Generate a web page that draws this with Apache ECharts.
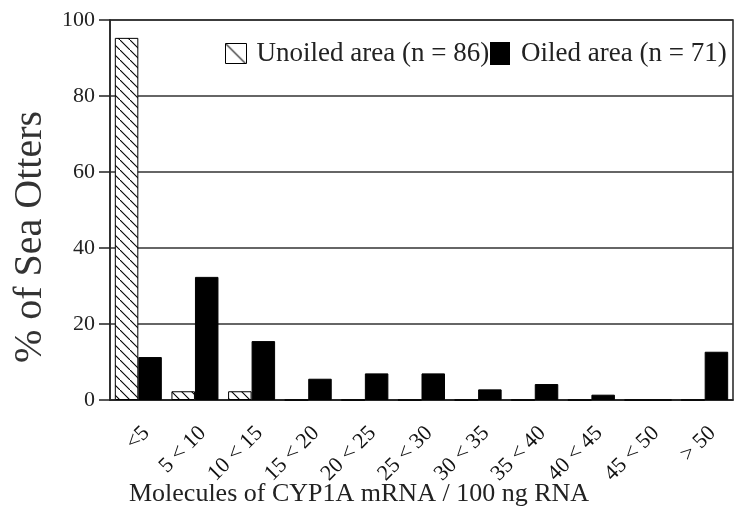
<!DOCTYPE html>
<html>
<head>
<meta charset="utf-8">
<script src="https://cdn.jsdelivr.net/npm/echarts@6/dist/echarts.min.js"></script>
<style>
html,body{margin:0;padding:0;background:#fff;}
#chart{width:735px;height:520px;}
</style>
</head>
<body>
<div id="chart"></div>
<script>
const categories = ['<5', '5 < 10', '10 < 15', '15 < 20', '20 < 25', '25 < 30', '30 < 35', '35 < 40', '40 < 45', '45 < 50', '> 50'];
const unoiled = [95.3, 2.3, 2.3, 0, 0, 0, 0, 0, 0, 0, 0];
const oiled = [11.3, 32.4, 15.5, 5.6, 7.0, 7.0, 2.8, 4.2, 1.4, 0, 12.7];
const yTicks = [0, 20, 40, 60, 80, 100];
const unoiledName = 'Unoiled area (n = 86)';
const oiledName = 'Oiled area (n = 71)';
const xTitle = 'Molecules of CYP1A mRNA / 100 ng RNA';
const yTitle = '% of Sea Otters';

function hatch(size) {
  const c = document.createElement('canvas');
  c.width = size; c.height = size;
  const g = c.getContext('2d');
  g.fillStyle = '#fff'; g.fillRect(0, 0, size, size);
  g.strokeStyle = '#000'; g.lineWidth = 1.1;
  g.beginPath();
  g.moveTo(-1, -1); g.lineTo(size + 1, size + 1);
  g.stroke();
  return c;
}
const barPattern = { image: hatch(10), repeat: 'repeat' };
const iconPattern = { image: hatch(20), repeat: 'no-repeat' };

const serif = '"Liberation Serif", "Times New Roman", serif';
const chart = echarts.init(document.getElementById('chart'));
chart.setOption({
  animation: false,
  backgroundColor: '#fff',
  grid: { left: 110, right: 2, top: 20, bottom: 120, show: true, borderColor: '#222', borderWidth: 1.5,
    containLabel: false, outerBoundsMode: 'none' },
  legend: [
    { left: 225, top: 40, itemWidth: 21, itemHeight: 20, padding: 0, icon: 'rect',
      data: [{ name: unoiledName, icon: 'rect', itemStyle: { color: iconPattern, borderColor: '#000', borderWidth: 1 } }],
      textStyle: { fontFamily: serif, fontSize: 27, color: '#222', padding: [0, 0, 0, 5] } },
    { left: 490, top: 40, itemWidth: 18, itemHeight: 21, padding: 0, icon: 'rect',
      data: [{ name: oiledName, icon: 'rect' }],
      textStyle: { fontFamily: serif, fontSize: 27, color: '#222', padding: [0, 0, 0, 7] } }
  ],
  xAxis: {
    type: 'category',
    data: categories,
    axisLine: { lineStyle: { color: '#222', width: 1.5 } },
    axisTick: { alignWithLabel: true, length: 9, lineStyle: { color: '#222', width: 1.5 } },
    axisLabel: { rotate: 45, fontFamily: serif, fontSize: 22, color: '#111', margin: 22, interval: 0,
      verticalAlign: 'top' },
    name: xTitle,
    nameLocation: 'middle',
    nameGap: 81,
    nameMoveOverlap: false,
    nameTextStyle: { fontFamily: serif, fontSize: 26, color: '#222', padding: [0, 125, 0, 0] }
  },
  yAxis: {
    type: 'value',
    min: 0, max: 100, interval: 20,
    axisLine: { show: true, lineStyle: { color: '#222', width: 1.5 } },
    axisTick: { show: true, length: 11, lineStyle: { color: '#222', width: 1.5 } },
    axisLabel: { fontFamily: serif, fontSize: 22, color: '#222', margin: 15,
      formatter: v => yTicks.includes(v) ? String(v) : '' },
    splitLine: { lineStyle: { color: '#333', width: 1.5 } },
    name: yTitle,
    nameLocation: 'middle',
    nameGap: 60,
    nameTextStyle: { fontFamily: serif, fontSize: 40, color: '#333', padding: [0, 54, 0, 0] }
  },
  series: [
    { name: unoiledName, type: 'bar', data: unoiled, barGap: '0%', barCategoryGap: '17%',
      itemStyle: { color: barPattern, borderColor: '#000', borderWidth: 1 } },
    { name: oiledName, type: 'bar', data: oiled,
      itemStyle: { color: '#000', borderColor: '#000', borderWidth: 1 } }
  ]
});
</script>
</body>
</html>
